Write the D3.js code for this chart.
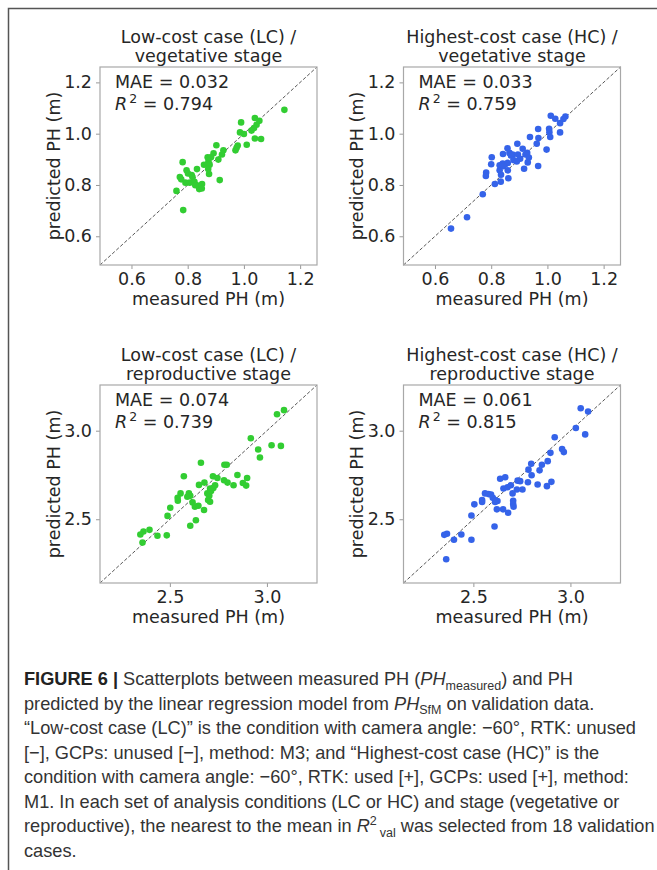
<!DOCTYPE html>
<html>
<head>
<meta charset="utf-8">
<script src="https://cdn.jsdelivr.net/npm/d3@7"></script>
<style>
  body { margin: 0; background: #fff; }
  svg { display: block; }
</style>
</head>
<body>
<div id="chart"></div>
<script>
// values (PH in metres)
const lcVegMeasured = [1.144,1.039,1.055,0.990,1.045,1.036,1.027,0.986,1.000,1.039,1.061,1.010,0.978,0.974,0.970,0.902,0.927,0.892,0.922,0.871,0.883,0.909,0.874,0.858,0.878,0.782,0.833,0.873,0.876,0.796,0.801,0.814,0.817,0.772,0.777,0.792,0.807,0.824,0.831,0.851,0.914,0.841,0.850,0.827,0.760,0.784];
const lcVegPredicted = [1.093,1.061,1.050,1.044,1.035,1.022,1.012,1.005,0.999,0.981,0.979,0.957,0.954,0.945,0.935,0.955,0.935,0.924,0.919,0.908,0.908,0.899,0.893,0.879,0.879,0.889,0.862,0.862,0.843,0.857,0.845,0.839,0.831,0.831,0.822,0.809,0.809,0.812,0.800,0.804,0.819,0.784,0.786,0.799,0.777,0.702];

const hcVegMeasured = [1.012,1.028,1.064,1.057,1.045,1.006,0.967,1.007,1.045,0.938,0.968,1.010,0.962,0.997,0.893,0.858,0.912,0.802,0.842,0.865,0.876,0.870,0.895,0.928,0.922,0.903,0.879,0.891,0.934,0.930,0.800,0.830,0.841,0.849,0.859,0.830,0.859,0.917,0.967,0.782,0.781,0.835,0.861,0.834,0.813,0.770,0.714,0.657,0.843];
const hcVegPredicted = [1.070,1.058,1.067,1.057,1.041,1.019,1.018,1.006,1.005,0.987,0.983,0.987,0.961,0.938,0.961,0.943,0.941,0.908,0.921,0.925,0.919,0.915,0.919,0.925,0.919,0.902,0.897,0.892,0.907,0.888,0.881,0.877,0.884,0.880,0.886,0.857,0.857,0.863,0.874,0.848,0.835,0.840,0.826,0.813,0.804,0.764,0.674,0.630,0.873];

const lcRepMeasured = [3.088,3.052,2.917,3.024,3.072,2.955,2.964,2.660,2.781,2.793,2.572,2.722,2.848,2.898,2.678,2.650,2.745,2.779,2.797,2.828,2.876,2.893,2.555,2.598,2.605,2.590,2.540,2.541,2.707,2.724,2.733,2.693,2.703,2.712,2.617,2.629,2.647,2.697,2.707,2.676,2.502,2.488,2.634,2.605,2.484,2.436,2.395,2.364,2.348,2.359];
const lcRepPredicted = [3.116,3.093,2.957,2.918,2.914,2.894,2.849,2.819,2.808,2.808,2.743,2.743,2.750,2.733,2.707,2.694,2.733,2.720,2.707,2.692,2.705,2.690,2.646,2.646,2.632,2.627,2.621,2.604,2.674,2.677,2.692,2.646,2.632,2.660,2.595,2.571,2.576,2.608,2.599,2.552,2.565,2.519,2.494,2.463,2.409,2.407,2.440,2.431,2.414,2.368];

const hcRepMeasured = [3.053,3.091,3.028,3.076,2.919,2.957,2.966,2.897,2.798,2.883,2.853,2.784,2.841,2.800,2.638,2.664,2.728,2.741,2.781,2.831,2.879,2.902,2.655,2.676,2.693,2.724,2.753,2.702,2.560,2.578,2.591,2.600,2.545,2.545,2.505,2.612,2.624,2.612,2.705,2.705,2.707,2.621,2.653,2.679,2.490,2.609,2.438,2.400,2.490,2.364,2.350,2.360];
const hcRepPredicted = [3.127,3.108,3.015,2.979,2.963,2.897,2.879,2.875,2.813,2.828,2.808,2.780,2.776,2.748,2.729,2.737,2.718,2.715,2.709,2.696,2.687,2.711,2.674,2.681,2.692,2.668,2.668,2.646,2.646,2.642,2.640,2.621,2.608,2.597,2.584,2.608,2.603,2.597,2.604,2.586,2.571,2.556,2.556,2.537,2.521,2.459,2.414,2.384,2.384,2.418,2.412,2.274];

const titles = [
    ["Low-cost case (LC) /", "vegetative stage"],
    ["Highest-cost case (HC) /", "vegetative stage"],
    ["Low-cost case (LC) /", "reproductive stage"],
    ["Highest-cost case (HC) /", "reproductive stage"]
];
const maeValues = ["0.032", "0.033", "0.074", "0.061"];
const r2Values = ["0.794", "0.759", "0.739", "0.815"];
const vegDomain = [0.488, 1.26];
const repDomain = [2.14, 3.258];
const vegTicks = [0.6, 0.8, 1.0, 1.2];
const repTicks = [2.5, 3.0];

const width = 657, height = 870;
const boxW = 217, boxH = 198;
const fs = 17.5;
const green = "#32cd32", blue = "#3563e9";

const panels = [
    {x: lcVegMeasured, y: lcVegPredicted, color: green, dom: vegDomain, ticks: vegTicks, left: 100, top: 67},
    {x: hcVegMeasured, y: hcVegPredicted, color: blue, dom: vegDomain, ticks: vegTicks, left: 403.5, top: 67},
    {x: lcRepMeasured, y: lcRepPredicted, color: green, dom: repDomain, ticks: repTicks, left: 100, top: 385},
    {x: hcRepMeasured, y: hcRepPredicted, color: blue, dom: repDomain, ticks: repTicks, left: 403.5, top: 385}
];

const svg = d3.select("#chart").append("svg")
    .attr("width", width)
    .attr("height", height)
    .style("font-family", "'DejaVu Sans', sans-serif");

// frame of the figure
svg.append("path")
    .attr("d", `M8.5,${height} V8.5 H${width}`)
    .attr("fill", "none")
    .attr("stroke", "#555")
    .attr("stroke-width", 1.5);

panels.forEach((p, i) => {
    const x = d3.scaleLinear().domain(p.dom).range([p.left, p.left + boxW]);
    const y = d3.scaleLinear().domain(p.dom).range([p.top + boxH, p.top]);
    const g = svg.append("g");
    const cx = p.left + boxW / 2;

    // title
    g.append("text")
        .attr("x", cx).attr("y", p.top - 24)
        .attr("text-anchor", "middle")
        .attr("font-size", fs).attr("fill", "#262626")
        .text(titles[i][0]);
    g.append("text")
        .attr("x", cx).attr("y", p.top - 5)
        .attr("text-anchor", "middle")
        .attr("font-size", fs).attr("fill", "#262626")
        .text(titles[i][1]);

    // 1:1 line
    g.append("line")
        .attr("x1", x(p.dom[0])).attr("y1", y(p.dom[0]))
        .attr("x2", x(p.dom[1])).attr("y2", y(p.dom[1]))
        .attr("stroke", "#444")
        .attr("stroke-width", 0.9)
        .attr("stroke-dasharray", "3.5,2");

    g.append("g")
        .selectAll("circle")
        .data(d3.zip(p.x, p.y))
        .join("circle")
            .attr("cx", d => x(d[0]))
            .attr("cy", d => y(d[1]))
            .attr("r", 3.3)
            .attr("fill", p.color);

    // axes
    const xAxis = g.append("g")
        .attr("transform", `translate(0,${p.top + boxH})`)
        .call(d3.axisBottom(x).tickValues(p.ticks).tickSize(4).tickPadding(4).tickFormat(d3.format(".1f")));
    const yAxis = g.append("g")
        .attr("transform", `translate(${p.left},0)`)
        .call(d3.axisLeft(y).tickValues(p.ticks).tickSize(4).tickPadding(4).tickFormat(d3.format(".1f")));
    [xAxis, yAxis].forEach(a => {
        a.select(".domain").remove();
        a.selectAll(".tick line").attr("stroke", "#999");
        a.selectAll(".tick text")
            .attr("font-size", fs)
            .attr("font-family", "'DejaVu Sans', sans-serif")
            .attr("fill", "#262626");
    });

    g.append("rect")
        .attr("x", p.left).attr("y", p.top)
        .attr("width", boxW).attr("height", boxH)
        .attr("fill", "none")
        .attr("stroke", "#a8a8a8")
        .attr("stroke-width", 1.2);

    // axis labels
    g.append("text")
        .attr("x", cx).attr("y", p.top + boxH + 40)
        .attr("text-anchor", "middle")
        .attr("font-size", fs).attr("fill", "#262626")
        .text("measured PH (m)");
    g.append("text")
        .attr("transform", `translate(${p.left - 40.5},${p.top + boxH / 2}) rotate(-90)`)
        .attr("text-anchor", "middle")
        .attr("font-size", fs).attr("fill", "#262626")
        .text("predicted PH (m)");

    // stats
    g.append("text")
        .attr("x", p.left + 15).attr("y", p.top + 20.5)
        .attr("font-size", fs).attr("fill", "#262626")
        .text(`MAE = ${maeValues[i]}`);
    const r2 = g.append("text")
        .attr("x", p.left + 15).attr("y", p.top + 43)
        .attr("font-size", fs).attr("fill", "#262626");
    r2.append("tspan").attr("font-style", "italic").text("R");
    r2.append("tspan").attr("dx", 2).attr("dy", -7.5).attr("font-size", 12.5).text("2");
    r2.append("tspan").attr("dy", 7.5).text(` = ${r2Values[i]}`);
});

// caption
const caption = [
    [["FIGURE 6 | ", "b"], ["Scatterplots between measured PH ("], ["PH", "i"], ["measured", "sub"], [") and PH"]],
    [["predicted by the linear regression model from "], ["PH", "i"], ["SfM", "sub"], [" on validation data."]],
    [["\u201cLow-cost case (LC)\u201d is the condition with camera angle: \u221260\u00b0, RTK: unused"]],
    [["[\u2212], GCPs: unused [\u2212], method: M3; and \u201cHighest-cost case (HC)\u201d is the"]],
    [["condition with camera angle: \u221260\u00b0, RTK: used [+], GCPs: used [+], method:"]],
    [["M1. In each set of analysis conditions (LC or HC) and stage (vegetative or"]],
    [["reproductive), the nearest to the mean in "], ["R", "i"], ["2", "sup"], ["val", "sub2"], [" was selected from 18 validation"]],
    [["cases."]]
];

const cap = svg.append("g")
    .attr("font-family", "'Liberation Sans', Arial, sans-serif")
    .attr("font-size", 18.2)
    .attr("fill", "#333");

caption.forEach((line, li) => {
    const t = cap.append("text").attr("x", 24).attr("y", 685 + li * 24.5);
    let shift = 0;
    line.forEach(([txt, st]) => {
        const s = t.append("tspan").text(txt);
        let target = 0;
        if (st === "b") s.attr("font-weight", "bold").attr("fill", "#222");
        if (st === "i") s.attr("font-style", "italic");
        if (st === "sub") { s.attr("font-size", 12.5); target = 4.5; }
        if (st === "sup") { s.attr("font-size", 12.5); target = -7; }
        if (st === "sub2") { s.attr("font-size", 12.5).attr("dx", 3); target = 4.5; }
        if (target !== shift) { s.attr("dy", target - shift); shift = target; }
    });
});
</script>
</body>
</html>
